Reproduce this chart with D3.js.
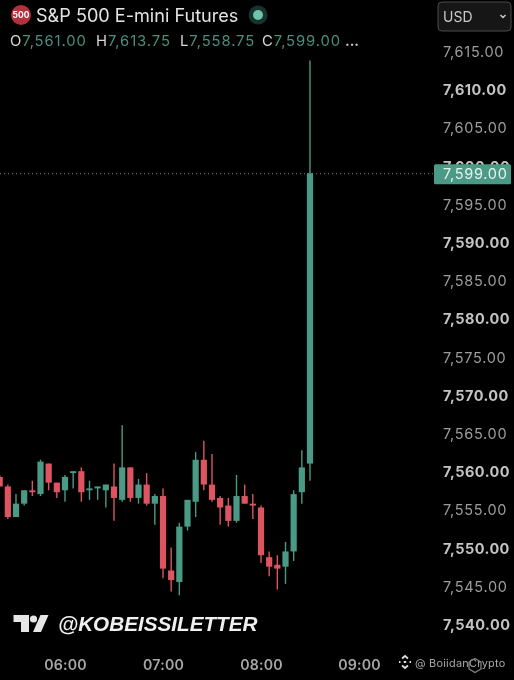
<!DOCTYPE html>
<html>
<head>
<meta charset="utf-8">
<script src="https://cdn.jsdelivr.net/npm/d3@7"></script>
<style>
    html, body { margin: 0; padding: 0; background: #000; overflow: hidden; }
    svg { display: block; filter: blur(0.35px); }
    text { font-family: Inter, "Liberation Sans", sans-serif; }
</style>
</head>
<body>
<svg width="514" height="680"></svg>
<script>
const times = ["05:20","05:25","05:30","05:35","05:40","05:45","05:50","05:55",
    "06:00","06:05","06:10","06:15","06:20","06:25","06:30","06:35","06:40","06:45","06:50","06:55",
    "07:00","07:05","07:10","07:15","07:20","07:25","07:30","07:35","07:40","07:45","07:50","07:55",
    "08:00","08:05","08:10","08:15","08:20","08:25","08:30"];
const opens = [7559.25,7558,7554,7555.75,7557.5,7557,7561,7558.5,
    7557.5,7559.75,7560,7557.5,7557.75,7557.5,7558,7556.25,7560.5,7556.5,7558.25,7555.75,
    7556.75,7547,7545.5,7552.75,7556,7561.5,7558.25,7556.5,7555.5,7553.5,7556.75,7555.75,
    7555.25,7548.75,7547.75,7547.5,7549.5,7557.25,7561];
const highs = [7559.5,7558.25,7557,7557.5,7558.75,7561.5,7561,7558.5,
    7559.5,7560,7560.5,7558.75,7558,7558.25,7561,7566,7560.5,7559,7559.75,7557,
    7557.75,7550,7553.25,7556.25,7562.5,7564,7562.25,7556.75,7556.5,7559.5,7558.25,7557,
    7555.5,7549.5,7549,7550.75,7557.5,7562.75,7613.75];
const lows = [7558,7553.75,7554,7555.5,7556.75,7556.75,7557.5,7556.5,
    7556,7557.75,7556,7556.25,7556.25,7555.25,7553.5,7556,7556,7555.75,7555.5,7553,
    7546,7544.25,7543.75,7552.25,7554,7557.5,7556,7553,7552.75,7553.25,7555.75,7553.75,
    7548,7546.25,7544.5,7545.25,7548.25,7555.75,7558.75];
const closes = [7558,7554,7555.75,7557.5,7557.25,7561.25,7558.5,7557.25,
    7559.25,7560,7557.25,7557.75,7558,7558.25,7556.5,7560.5,7556.5,7558.25,7555.75,7556.75,
    7547.25,7545.75,7552.75,7556.25,7561.5,7558.25,7556.25,7555.25,7553.5,7556.75,7555.75,7555.5,
    7549,7547.5,7547.25,7549.5,7557,7560.5,7599];

const priceTicks = [7615,7610,7605,7600,7595,7590,7585,7580,7575,7570,7565,7560,7555,7550,7545,7540];
const timeTicks = ["06:00","07:00","08:00","09:00"];
const ohlcLabels = ["O","H","L","C"];
const ohlcValues = [7561,7613.75,7558.75,7599];
const lastPrice = 7599;

const GREEN = "#4a9a85";
const RED = "#dc5560";

const parseTime = d3.utcParse("%H:%M");
const fmtPrice = d3.format(",.2f");

const svg = d3.select("svg");

const x = d3.scaleUtc().domain([parseTime("06:00"), parseTime("09:00")]).range([65, 359]);
const y = d3.scaleLinear().domain([7540, 7615]).range([624, 51]);

let candles = times.map((t, i) => ({
    time: parseTime(t), open: opens[i], high: highs[i], low: lows[i], close: closes[i]
}));

function candleColor(d) {
    return d.close >= d.open ? GREEN : RED;
}

// last price line
svg.append("line")
    .attr("x1", 0).attr("x2", 434)
    .attr("y1", y(lastPrice) + 0.5).attr("y2", y(lastPrice) + 0.5)
    .attr("stroke", "#858585")
    .attr("stroke-width", 1)
    .attr("stroke-dasharray", "1 3");

// candles
let groups = svg.append("g").selectAll("g").data(candles).enter().append("g");

groups.append("line")
    .attr("x1", d => x(d.time)).attr("x2", d => x(d.time))
    .attr("y1", d => y(d.high)).attr("y2", d => y(d.low))
    .attr("stroke", candleColor)
    .attr("stroke-width", 1.4);

groups.append("rect")
    .attr("x", d => x(d.time) - 3.1)
    .attr("width", 6.2)
    .attr("y", d => y(Math.max(d.open, d.close)))
    .attr("height", d => Math.max(1.5, Math.abs(y(d.open) - y(d.close))))
    .attr("fill", candleColor);

// price axis
let yAxis = svg.append("g")
    .attr("transform", "translate(443,0.8)")
    .call(d3.axisRight(y).tickValues(priceTicks).tickFormat(fmtPrice).tickSize(0).tickPadding(0));
yAxis.select(".domain").remove();
yAxis.selectAll("text")
    .attr("fill", d => d % 10 === 0 ? "#c4c4c4" : "#9d9d9d")
    .style("font-family", "Inter, sans-serif")
    .style("font-size", "14.5px")
    .style("font-weight", d => d % 10 === 0 ? 700 : 400)
    .style("letter-spacing", d => d % 10 === 0 ? "0.45px" : "0.7px");

// last price tag
svg.append("rect")
    .attr("x", 434).attr("y", y(lastPrice) - 9)
    .attr("width", 77).attr("height", 20)
    .attr("rx", 1.5)
    .attr("fill", GREEN);
svg.append("text")
    .attr("x", 443).attr("y", y(lastPrice) + 6)
    .attr("fill", "#e8f3f0")
    .style("font-size", "14.5px")
    .style("letter-spacing", "0.7px")
    .text(fmtPrice(lastPrice));

// time axis
let xAxis = svg.append("g")
    .attr("transform", "translate(0,660)")
    .call(d3.axisBottom(x).tickValues(timeTicks.map(parseTime)).tickFormat(d3.utcFormat("%H:%M")).tickSize(0).tickPadding(0));
xAxis.select(".domain").remove();
xAxis.selectAll("text")
    .attr("fill", "#a8a8a8")
    .style("font-family", "Inter, sans-serif")
    .style("font-size", "14.2px")
    .style("font-weight", 600)
    .style("letter-spacing", "0.2px");

// header
svg.append("circle").attr("cx", 21).attr("cy", 15).attr("r", 10).attr("fill", "#b3303c");
svg.append("text").attr("x", 21).attr("y", 18)
    .attr("text-anchor", "middle").attr("fill", "#fff")
    .style("font-size", "8.5px").style("font-weight", 700)
    .text("500");
svg.append("text").attr("x", 36).attr("y", 22)
    .attr("fill", "#e4e4e4")
    .style("font-size", "18.1px")
    .text("S&P 500 E-mini Futures");
svg.append("circle").attr("cx", 258).attr("cy", 15).attr("r", 9.5).attr("fill", "#17332c");
svg.append("circle").attr("cx", 258).attr("cy", 15).attr("r", 5).attr("fill", "#6fc4ae");

const ohlcX = [10, 96, 180, 262];
let ohlc = svg.append("g").selectAll("text").data(ohlcLabels).enter().append("text")
    .attr("x", (d, i) => ohlcX[i]).attr("y", 46)
    .style("font-size", "14.8px")
    .style("letter-spacing", "0.9px");
ohlc.append("tspan").attr("fill", "#d8d8d8").text(d => d);
ohlc.append("tspan").attr("fill", "#4b8f7e").text((d, i) => fmtPrice(ohlcValues[i]));
svg.append("text").attr("x", 345).attr("y", 46).attr("fill", "#c8c8c8")
    .style("font-size", "14px").style("font-weight", 700).text("...");

// currency button
svg.append("rect").attr("x", 438).attr("y", 2).attr("width", 73).attr("height", 29).attr("rx", 4)
    .attr("fill", "#161616").attr("stroke", "#4a4a4a");
svg.append("text").attr("x", 443).attr("y", 22).attr("fill", "#c9c9c9")
    .style("font-size", "14px").text("USD");
svg.append("path").attr("d", "M500.5 15l2.5 2.5 2.5-2.5")
    .attr("fill", "none").attr("stroke", "#d0d0d0").attr("stroke-width", 1.4);

// watermark
let logo = svg.append("g").attr("fill", "#e6e6e6");
logo.append("path").attr("d", "M13.5 615H29V632H21V622H13.5Z");
logo.append("circle").attr("cx", 33.5).attr("cy", 619).attr("r", 3.6);
logo.append("path").attr("d", "M40.5 615H48.5L41 632H33Z");
svg.append("text").attr("x", 58).attr("y", 631)
    .attr("fill", "#f0f0f0")
    .style("font-family", "'Liberation Sans', sans-serif")
    .style("font-size", "20.7px").style("font-style", "italic").style("font-weight", 700)
    .text("@KOBEISSILETTER");

// binance square mark
let mark = svg.append("g").attr("transform", "translate(405,662)")
    .attr("fill", "none").attr("stroke", "#dcdcdc").attr("stroke-width", 1.8);
mark.append("path").attr("d", "M-3 -3.5L0 -6L3 -3.5M-3 3.5L0 6L3 3.5");
mark.append("path").attr("d", "M-6 0h1.5M4.5 0h1.5M-1.2 0h2.4");
svg.append("text").attr("x", 415).attr("y", 667).attr("fill", "#a8a8a8")
    .style("font-size", "10.9px").style("letter-spacing", "0.25px")
    .text("@ BoiidanCrypto");
svg.append("path").attr("d", "M475 658.5L481 662V669L475 672.5L469 669V662Z")
    .attr("fill", "none").attr("stroke", "#8a8a8a").attr("stroke-width", 1.2);
</script>
</body>
</html>
